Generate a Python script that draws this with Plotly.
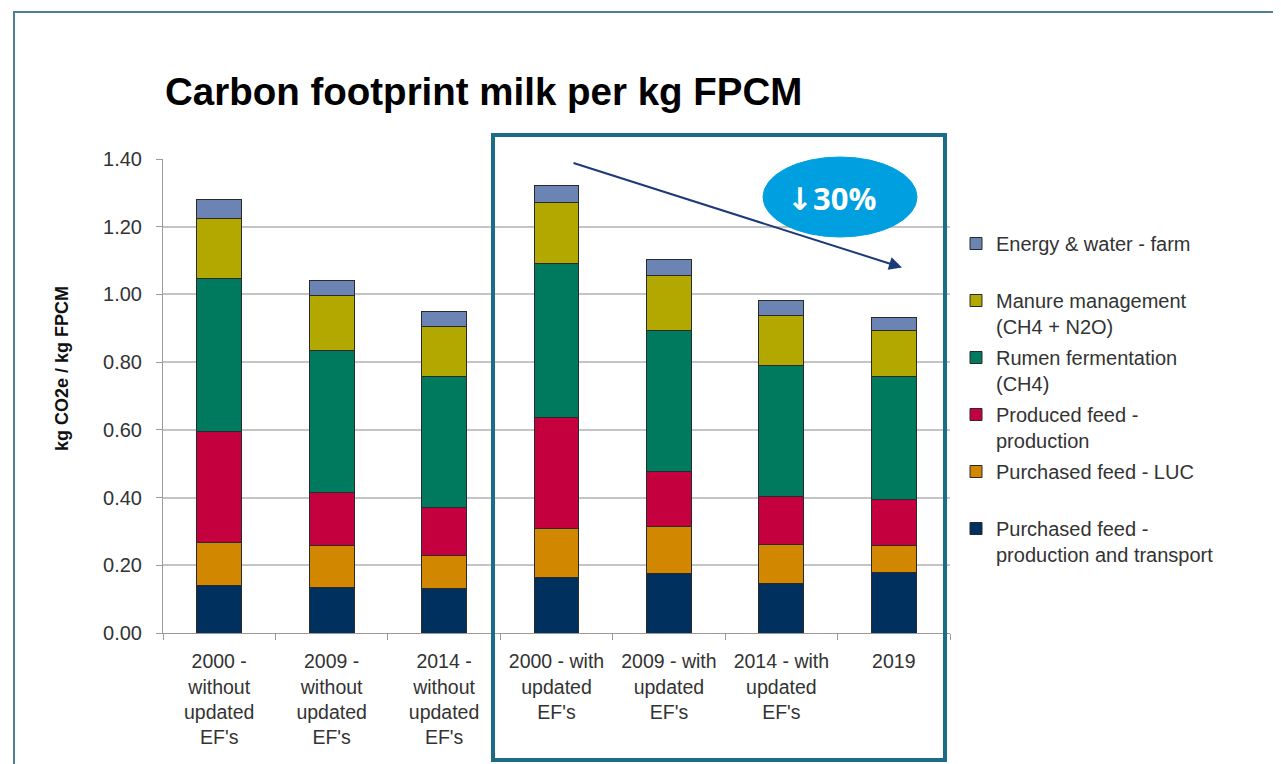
import plotly.graph_objects as go

categories = [
    "2000 -<br>without<br>updated<br>EF's",
    "2009 -<br>without<br>updated<br>EF's",
    "2014 -<br>without<br>updated<br>EF's",
    "2000 - with<br>updated<br>EF's",
    "2009 - with<br>updated<br>EF's",
    "2014 - with<br>updated<br>EF's",
    "2019",
]

purchased_feed_prod = [0.139, 0.135, 0.132, 0.164, 0.176, 0.145, 0.179]
purchased_feed_luc = [0.128, 0.122, 0.096, 0.145, 0.138, 0.115, 0.078]
produced_feed = [0.328, 0.159, 0.143, 0.328, 0.162, 0.143, 0.138]
rumen_fermentation = [0.453, 0.417, 0.386, 0.453, 0.417, 0.388, 0.362]
manure_management = [0.177, 0.163, 0.148, 0.181, 0.162, 0.148, 0.136]
energy_water = [0.056, 0.046, 0.044, 0.052, 0.047, 0.042, 0.038]

series_names = [
    "Purchased feed -<br>production and transport",
    "Purchased feed - LUC<br> ",
    "Produced feed -<br>production",
    "Rumen fermentation<br>(CH4)",
    "Manure management<br>(CH4 + N2O)",
    "Energy & water - farm<br> ",
]
series_values = [purchased_feed_prod, purchased_feed_luc, produced_feed,
                 rumen_fermentation, manure_management, energy_water]
series_colors = ["#00305e", "#d18800", "#c4003f", "#007a5e", "#b2a800", "#6b84b4"]

y_ticks = [0.0, 0.2, 0.4, 0.6, 0.8, 1.0, 1.2, 1.4]
y_tick_text = ["0.00", "0.20", "0.40", "0.60", "0.80", "1.00", "1.20", "1.40"]

FONT = "Liberation Sans, Arial, sans-serif"

fig = go.Figure()
n = len(series_names)
for i, (name, vals, col) in enumerate(zip(series_names, series_values, series_colors)):
    fig.add_trace(go.Bar(
        x=categories, y=vals, name=name, legendrank=n - i, legendgroup=f"g{i}",
        marker=dict(color=col, line=dict(color="#2a2a2a", width=1)),
    ))

# page has an 8px body margin; positions below are measured on screen
OFF = 8
L, R, T, B = 163, 950, 159, 633   # plot area on screen
W, H = 1281, 764
def px(x):
    return (x - L) / (R - L)
def py(y):
    return (B - y) / (B - T)

fig.update_layout(
    width=W, height=H,
    margin=dict(l=L - OFF, r=W - (R - OFF), t=T - OFF, b=H - (B - OFF), pad=0),
    paper_bgcolor="white", plot_bgcolor="white",
    barmode="stack", bargap=0.6,
    font=dict(family=FONT, size=19, color="#333333"),
    title=dict(text="Carbon footprint milk per kg FPCM",
               font=dict(family=FONT, size=38.5, color="#000000", weight=700),
               x=px(165), xref="paper", xanchor="left",
               y=1 - (92 - OFF) / H, yref="container", yanchor="middle"),
    showlegend=True,
    legend=dict(x=px(956), xanchor="left", y=py(224), yanchor="top",
                traceorder="grouped", tracegroupgap=2,
                valign="top", font=dict(family=FONT, size=20, color="#333333"),
                bgcolor="rgba(0,0,0,0)", itemwidth=30),
    xaxis=dict(showline=True, linecolor="#9a9a9a", linewidth=1,
               ticks="outside", tickson="boundaries", ticklen=6, tickcolor="#9a9a9a",
               ticklabelstandoff=11,
               tickfont=dict(family=FONT, size=19.5, color="#333333"),
               showgrid=False),
    yaxis=dict(range=[0, 1.4], tickvals=y_ticks, ticktext=y_tick_text,
               showline=True, linecolor="#9a9a9a", linewidth=1,
               ticks="outside", ticklen=6, tickcolor="#9a9a9a",
               ticklabelstandoff=10,
               tickfont=dict(family=FONT, size=20, color="#333333"),
               showgrid=False, zeroline=False),
    yaxis2=dict(range=[0, 1.4], overlaying="y", tickvals=y_ticks[:-1],
                showticklabels=False, ticks="", showline=False,
                showgrid=True, gridcolor="#c4c4c4", gridwidth=1.5, zeroline=False),
)

# invisible trace so yaxis2 (gridlines) is drawn
fig.add_trace(go.Scatter(x=[categories[0]], y=[0], yaxis="y2", mode="markers",
                         marker=dict(opacity=0), showlegend=False, hoverinfo="skip"))

shapes = [
    # slide frame
    dict(type="rect", xref="paper", yref="paper",
         x0=px(14), x1=px(1300), y0=py(790), y1=py(12),
         line=dict(color="#4e8196", width=2), fillcolor="rgba(0,0,0,0)", layer="below"),
    # highlight box
    dict(type="rect", xref="paper", yref="paper",
         x0=px(493), x1=px(945), y0=py(760), y1=py(135),
         line=dict(color="#1b6d87", width=4), fillcolor="rgba(0,0,0,0)"),
    # ellipse badge
    dict(type="circle", xref="paper", yref="paper",
         x0=px(763), x1=px(917), y0=py(237), y1=py(157),
         line=dict(color="#00a0e0", width=1), fillcolor="#00a0e0"),
]
fig.update_layout(shapes=shapes)

fig.add_annotation(xref="paper", yref="paper", x=px(902), y=py(267.5),
                   ax=-330, ay=-105, axref="pixel", ayref="pixel",
                   text="", showarrow=True, arrowhead=2, arrowsize=1.3,
                   arrowwidth=2, arrowcolor="#1c3a78")
fig.add_annotation(xref="paper", yref="paper", x=px(831), y=py(198),
                   text="<b>↓30%</b>", showarrow=False,
                   font=dict(family="Open Sans, DejaVu Sans, sans-serif", size=31, color="white"),
                   xanchor="center", yanchor="middle")
fig.add_annotation(xref="paper", yref="paper", x=px(62), y=py(369),
                   text="<b>kg CO2e / kg FPCM</b>", showarrow=False, textangle=-90,
                   font=dict(family=FONT, size=18, color="#111111"),
                   xanchor="center", yanchor="middle")

fig.write_html("out.html")
